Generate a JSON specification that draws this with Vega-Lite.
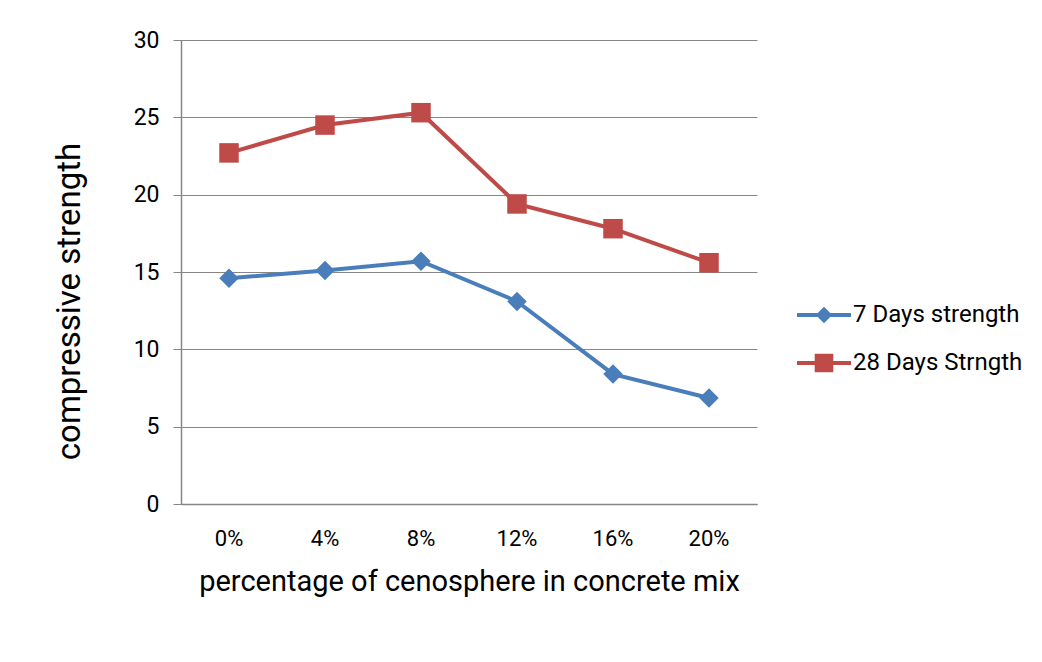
{
  "$schema": "https://vega.github.io/schema/vega-lite/v6.json",
  "autosize": "none",
  "width": 576,
  "height": 464,
  "padding": {"left": 181, "top": 40, "right": 285, "bottom": 158},
  "background": "white",
  "config": {
    "view": {"stroke": null},
    "font": "Roboto"
  },
  "data": {"values": [
    {"pct": "0%", "series": "7 Days strength", "value": 14.6},
    {"pct": "4%", "series": "7 Days strength", "value": 15.1},
    {"pct": "8%", "series": "7 Days strength", "value": 15.7},
    {"pct": "12%", "series": "7 Days strength", "value": 13.1},
    {"pct": "16%", "series": "7 Days strength", "value": 8.4},
    {"pct": "20%", "series": "7 Days strength", "value": 6.85},
    {"pct": "0%", "series": "28 Days Strngth", "value": 22.7},
    {"pct": "4%", "series": "28 Days Strngth", "value": 24.5},
    {"pct": "8%", "series": "28 Days Strngth", "value": 25.3},
    {"pct": "12%", "series": "28 Days Strngth", "value": 19.4},
    {"pct": "16%", "series": "28 Days Strngth", "value": 17.8},
    {"pct": "20%", "series": "28 Days Strngth", "value": 15.6}
  ]},
  "encoding": {
    "x": {
      "field": "pct", "type": "nominal",
      "sort": ["0%", "4%", "8%", "12%", "16%", "20%"],
      "scale": {"type": "band", "paddingInner": 0, "paddingOuter": 0},
      "axis": {
        "title": "percentage of cenosphere in concrete mix",
        "labelAngle": 0, "ticks": false, "grid": false,
        "labelFontSize": 22, "labelColor": "#000000", "labelPadding": 24,
        "titleFontSize": 29, "titleFontWeight": "normal", "titleColor": "#000000", "titlePadding": 18,
        "domainColor": "#868686", "domainWidth": 1.5
      }
    },
    "y": {
      "field": "value", "type": "quantitative",
      "scale": {"domain": [0, 30], "nice": false},
      "axis": {
        "title": "compressive strength",
        "values": [0, 5, 10, 15, 20, 25, 30],
        "labelFontSize": 23, "labelColor": "#000000", "labelPadding": 14,
        "tickSize": 8, "tickColor": "#868686",
        "gridColor": "#868686", "gridWidth": 1.2,
        "domainColor": "#868686", "domainWidth": 1.5,
        "titleFontSize": 33, "titleFontWeight": "normal", "titleColor": "#000000",
        "titleX": -95, "titleY": 261
      }
    },
    "color": {
      "field": "series", "type": "nominal",
      "sort": ["7 Days strength", "28 Days Strngth"],
      "scale": {"range": ["#4A7EBB", "#BE4B48"]},
      "legend": {
        "title": null, "orient": "none", "legendX": 628, "legendY": 260,
        "labelFontSize": 24, "labelColor": "#000000", "labelOffset": 14, "labelLimit": 0,
        "symbolSize": 900, "rowPadding": 21,
        "symbolStrokeWidth": 0,
        "encode": {
          "symbols": {
            "update": {
              "shape": {"signal": "datum.value === '7 Days strength' ? 'M-1.8,-0.13 H1.8 V0.13 H-1.8 Z M0,-0.55 L0.55,0 L0,0.55 L-0.55,0 Z' : 'M-1.8,-0.13 H1.8 V0.13 H-1.8 Z M-0.62,-0.62 H0.62 V0.62 H-0.62 Z'"},
              "opacity": {"value": 1}
            }
          }
        }
      }
    }
  },
  "layer": [
    {"mark": {"type": "line", "strokeWidth": 4}},
    {"mark": {"type": "point", "filled": true, "opacity": 1, "size": 380},
     "encoding": {
       "shape": {"field": "series", "type": "nominal", "sort": ["7 Days strength", "28 Days Strngth"], "scale": {"range": ["diamond", "square"]}, "legend": null}
     }}
  ]
}
